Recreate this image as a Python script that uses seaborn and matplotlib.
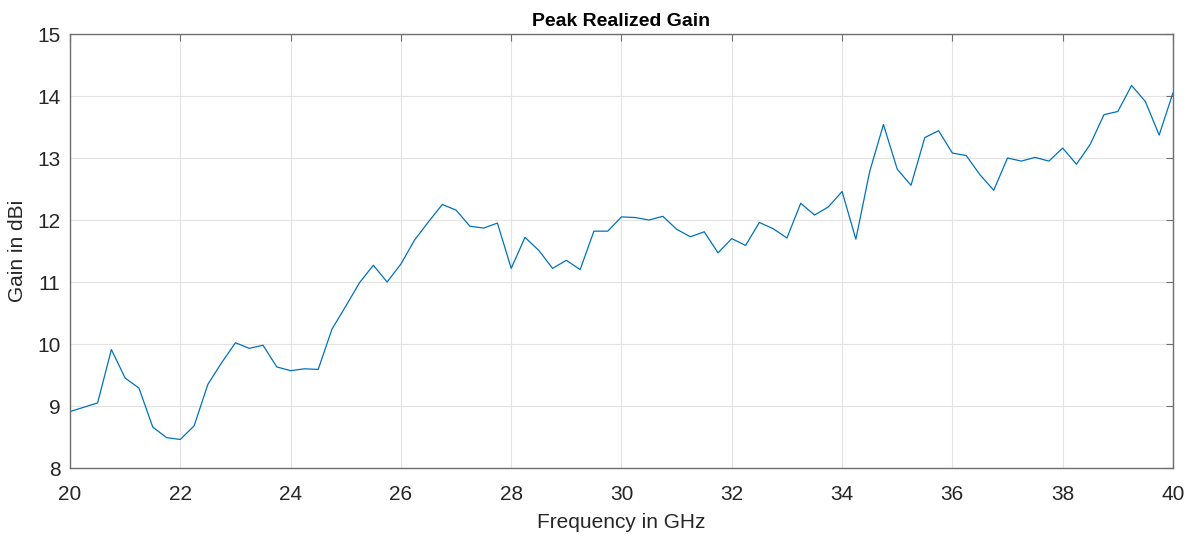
import numpy as np
import pandas as pd
import seaborn as sns
import matplotlib.pyplot as plt

# frequency sweep, 0.25 GHz steps
freq = np.arange(20.0, 40.01, 0.25)
gain = [8.91, 8.98, 9.05, 9.91, 9.45, 9.29, 8.66, 8.49, 8.46, 8.68,
        9.35, 9.70, 10.02, 9.93, 9.98, 9.63, 9.57, 9.60, 9.59, 10.24,
        10.61, 10.99, 11.27, 11.00, 11.29, 11.68, 11.97, 12.25, 12.16, 11.90,
        11.87, 11.95, 11.22, 11.72, 11.51, 11.22, 11.35, 11.20, 11.82, 11.82,
        12.05, 12.04, 12.00, 12.06, 11.85, 11.73, 11.81, 11.47, 11.70, 11.59,
        11.96, 11.86, 11.71, 12.27, 12.08, 12.21, 12.46, 11.69, 12.78, 13.54,
        12.82, 12.56, 13.33, 13.44, 13.08, 13.04, 12.73, 12.48, 13.00, 12.95,
        13.01, 12.95, 13.16, 12.90, 13.22, 13.70, 13.75, 14.17, 13.91, 13.37,
        14.05]
xticks = [20, 22, 24, 26, 28, 30, 32, 34, 36, 38, 40]
yticks = [8, 9, 10, 11, 12, 13, 14, 15]

df = pd.DataFrame({"freq": freq, "gain": gain})

sns.set_style("white")
plt.rcParams["font.family"] = ["Liberation Sans", "DejaVu Sans"]

fig = plt.figure(figsize=(11.93, 5.38), dpi=100)
ax = fig.add_axes([0.0587, 0.1301, 0.9245, 0.8067])

sns.lineplot(data=df, x="freq", y="gain", ax=ax, color="#0072BD", linewidth=0.9)

ax.set_xlim(20, 40)
ax.set_ylim(8, 15)
ax.set_xticks(xticks)
ax.set_yticks(yticks)
ax.grid(True, color="#e3e3e3", linewidth=0.8)
ax.tick_params(axis="both", direction="in", length=5, color="#6e6e6e",
               labelsize=15, labelcolor="#262626", top=True, right=True,
               labeltop=False, labelright=False)
ax.tick_params(axis="x", pad=12)
ax.tick_params(axis="y", pad=7)
for s in ax.spines.values():
    s.set_color("#6e6e6e")
    s.set_linewidth(1.0)

ax.set_xlabel("Frequency in GHz", fontsize=15, color="#262626", labelpad=7)
ax.set_ylabel("Gain in dBi", fontsize=15, color="#262626", labelpad=7)
ax.set_title("Peak Realized Gain", fontsize=14, fontweight="bold",
             color="black", pad=6)

fig.savefig("out.png", dpi=100)
